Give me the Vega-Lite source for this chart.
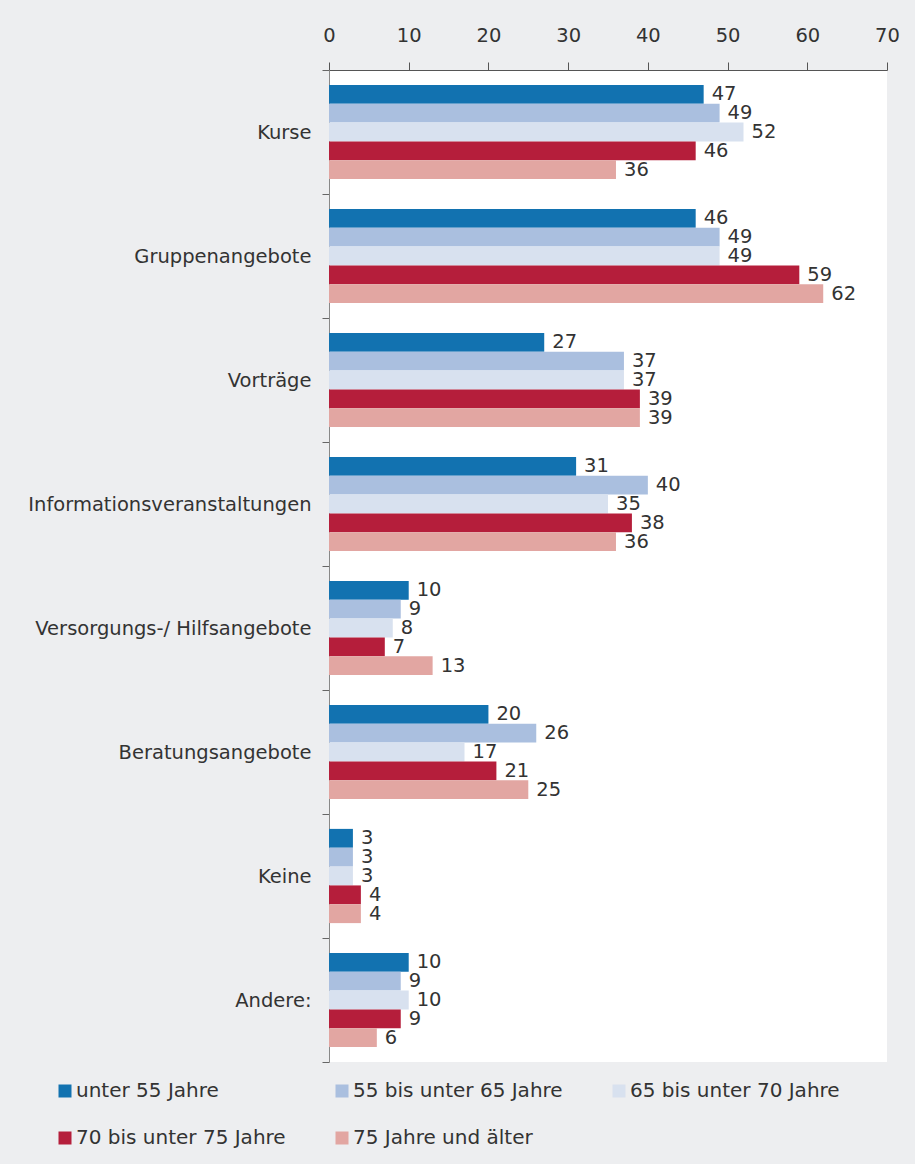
{
  "$schema": "https://vega.github.io/schema/vega-lite/v6.json",
  "width": 558,
  "height": 992,
  "autosize": {"type": "none"},
  "padding": {"left": 329, "top": 70, "right": 28, "bottom": 102},
  "background": "#edeef0",
  "config": {"view": {"fill": "white", "stroke": null}, "font": "DejaVu Sans"},
  "data": {
    "values": [
      {"cat": "Kurse", "grp": "unter 55 Jahre", "v": 47},
      {"cat": "Kurse", "grp": "55 bis unter 65 Jahre", "v": 49},
      {"cat": "Kurse", "grp": "65 bis unter 70 Jahre", "v": 52},
      {"cat": "Kurse", "grp": "70 bis unter 75 Jahre", "v": 46},
      {"cat": "Kurse", "grp": "75 Jahre und älter", "v": 36},
      {"cat": "Gruppenangebote", "grp": "unter 55 Jahre", "v": 46},
      {"cat": "Gruppenangebote", "grp": "55 bis unter 65 Jahre", "v": 49},
      {"cat": "Gruppenangebote", "grp": "65 bis unter 70 Jahre", "v": 49},
      {"cat": "Gruppenangebote", "grp": "70 bis unter 75 Jahre", "v": 59},
      {"cat": "Gruppenangebote", "grp": "75 Jahre und älter", "v": 62},
      {"cat": "Vorträge", "grp": "unter 55 Jahre", "v": 27},
      {"cat": "Vorträge", "grp": "55 bis unter 65 Jahre", "v": 37},
      {"cat": "Vorträge", "grp": "65 bis unter 70 Jahre", "v": 37},
      {"cat": "Vorträge", "grp": "70 bis unter 75 Jahre", "v": 39},
      {"cat": "Vorträge", "grp": "75 Jahre und älter", "v": 39},
      {"cat": "Informationsveranstaltungen", "grp": "unter 55 Jahre", "v": 31},
      {"cat": "Informationsveranstaltungen", "grp": "55 bis unter 65 Jahre", "v": 40},
      {"cat": "Informationsveranstaltungen", "grp": "65 bis unter 70 Jahre", "v": 35},
      {"cat": "Informationsveranstaltungen", "grp": "70 bis unter 75 Jahre", "v": 38},
      {"cat": "Informationsveranstaltungen", "grp": "75 Jahre und älter", "v": 36},
      {"cat": "Versorgungs-/ Hilfsangebote", "grp": "unter 55 Jahre", "v": 10},
      {"cat": "Versorgungs-/ Hilfsangebote", "grp": "55 bis unter 65 Jahre", "v": 9},
      {"cat": "Versorgungs-/ Hilfsangebote", "grp": "65 bis unter 70 Jahre", "v": 8},
      {"cat": "Versorgungs-/ Hilfsangebote", "grp": "70 bis unter 75 Jahre", "v": 7},
      {"cat": "Versorgungs-/ Hilfsangebote", "grp": "75 Jahre und älter", "v": 13},
      {"cat": "Beratungsangebote", "grp": "unter 55 Jahre", "v": 20},
      {"cat": "Beratungsangebote", "grp": "55 bis unter 65 Jahre", "v": 26},
      {"cat": "Beratungsangebote", "grp": "65 bis unter 70 Jahre", "v": 17},
      {"cat": "Beratungsangebote", "grp": "70 bis unter 75 Jahre", "v": 21},
      {"cat": "Beratungsangebote", "grp": "75 Jahre und älter", "v": 25},
      {"cat": "Keine", "grp": "unter 55 Jahre", "v": 3},
      {"cat": "Keine", "grp": "55 bis unter 65 Jahre", "v": 3},
      {"cat": "Keine", "grp": "65 bis unter 70 Jahre", "v": 3},
      {"cat": "Keine", "grp": "70 bis unter 75 Jahre", "v": 4},
      {"cat": "Keine", "grp": "75 Jahre und älter", "v": 4},
      {"cat": "Andere:", "grp": "unter 55 Jahre", "v": 10},
      {"cat": "Andere:", "grp": "55 bis unter 65 Jahre", "v": 9},
      {"cat": "Andere:", "grp": "65 bis unter 70 Jahre", "v": 10},
      {"cat": "Andere:", "grp": "70 bis unter 75 Jahre", "v": 9},
      {"cat": "Andere:", "grp": "75 Jahre und älter", "v": 6}
    ]
  },
  "encoding": {
    "y": {
      "field": "cat",
      "type": "nominal",
      "sort": ["Kurse", "Gruppenangebote", "Vorträge", "Informationsveranstaltungen", "Versorgungs-/ Hilfsangebote", "Beratungsangebote", "Keine", "Andere:"],
      "scale": {"paddingInner": 0, "paddingOuter": 0},
      "axis": {
        "title": null,
        "labelFontSize": 19.5,
        "labelColor": "#333333",
        "labelPadding": 11,
        "labelLimit": 400,
        "tickSize": 7,
        "tickColor": "#666666",
        "domainColor": "#888888",
        "tickBand": "extent"
      }
    },
    "yOffset": {
      "field": "grp",
      "type": "nominal",
      "sort": ["unter 55 Jahre", "55 bis unter 65 Jahre", "65 bis unter 70 Jahre", "70 bis unter 75 Jahre", "75 Jahre und älter"],
      "scale": {"paddingInner": 0, "paddingOuter": 0.79}
    },
    "x": {
      "field": "v",
      "type": "quantitative",
      "scale": {"domain": [0, 70]},
      "axis": {
        "orient": "top",
        "title": null,
        "values": [0, 10, 20, 30, 40, 50, 60, 70],
        "grid": false,
        "labelFontSize": 19.5,
        "labelColor": "#333333",
        "labelPadding": 17,
        "labelFlush": false,
        "tickSize": 8,
        "tickColor": "#555555",
        "domainColor": "#555555"
      }
    }
  },
  "layer": [
    {
      "mark": {"type": "bar"},
      "encoding": {
        "color": {
          "field": "grp",
          "type": "nominal",
          "sort": ["unter 55 Jahre", "55 bis unter 65 Jahre", "65 bis unter 70 Jahre", "70 bis unter 75 Jahre", "75 Jahre und älter"],
          "scale": {
            "domain": ["unter 55 Jahre", "55 bis unter 65 Jahre", "65 bis unter 70 Jahre", "70 bis unter 75 Jahre", "75 Jahre und älter"],
            "range": ["#1272b0", "#aabfdf", "#d8e1ef", "#b51e3b", "#e2a6a2"]
          },
          "legend": {
            "title": null,
            "orient": "none",
            "direction": "horizontal",
            "legendX": -274,
            "legendY": 1011,
            "columns": 3,
            "columnPadding": 46,
            "rowPadding": 27,
            "symbolType": "square",
            "symbolSize": 169,
            "symbolStrokeWidth": 0,
            "symbolOpacity": 1,
            "labelFontSize": 20,
            "labelColor": "#333333",
            "labelOffset": 1,
            "labelLimit": 400
          }
        }
      }
    },
    {
      "mark": {"type": "text", "align": "left", "baseline": "middle", "dx": 8, "fontSize": 19.5, "color": "#333333"},
      "encoding": {"text": {"field": "v", "type": "quantitative"}}
    }
  ]
}
